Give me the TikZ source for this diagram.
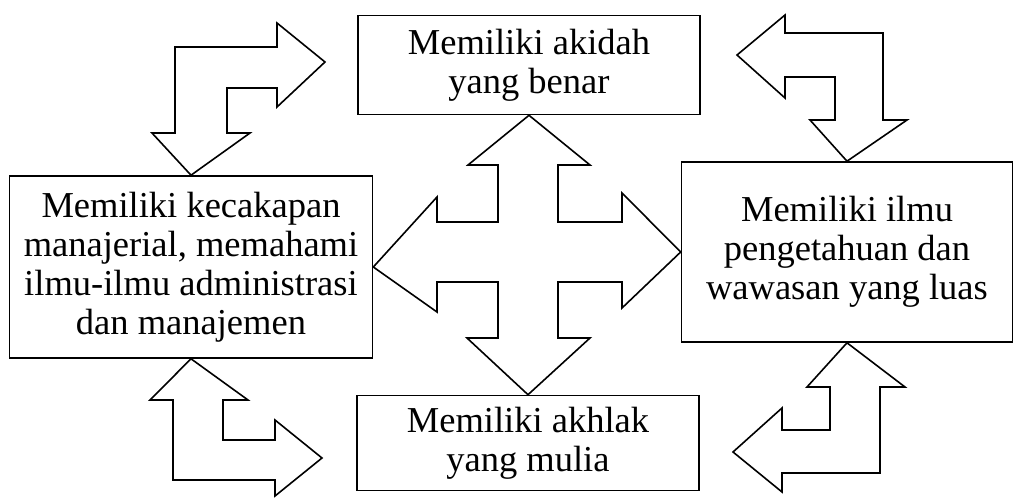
\documentclass[tikz,border=0pt]{standalone}
\usepackage{fontspec}
\setmainfont{Liberation Serif}
\usetikzlibrary{positioning}

\begin{document}
\begin{tikzpicture}[x=1pt, y=-1pt,
		box/.style={draw, line width=1.6pt, align=center, inner sep=0pt,
			font=\fontsize{36.5}{39}\selectfont},
		blockarrow/.style={draw, line width=1.6pt, fill=white, line join=miter}]
		\useasboundingbox (0,0) rectangle (1015,500);
		
		% Define nodes (the four qualities)
		\node[box, minimum width=342pt, minimum height=99pt] (akidah) at (529,65) {Memiliki akidah\\yang benar};
		\node[box, minimum width=363pt, minimum height=182pt] (manajemen) at (191,267) {Memiliki kecakapan\\manajerial, memahami\\ilmu-ilmu administrasi\\dan manajemen};
		\node[box, minimum width=331pt, minimum height=180pt] (ilmu) at (847,252) {Memiliki ilmu\\pengetahuan dan\\wawasan yang luas};
		\node[box, minimum width=342pt, minimum height=95pt] (akhlak) at (528,443) {Memiliki akhlak\\yang mulia};
		
		% Free ends of the corner arrows
		\coordinate (tipA) at (325,62);
		\coordinate (tipB) at (737,55);
		\coordinate (tipC) at (322,458);
		\coordinate (tipD) at (733,452);
		
		% Draw the cross in the middle
		\draw[blockarrow] (akidah.south) -- (590,165) -- (558,165) -- (558,222) -- (622,222) -- (622,193)
			-- (ilmu.west) -- (622,308) -- (622,282) -- (558,282) -- (558,338) -- (590,338)
			-- (akhlak.north) -- (467,338) -- (498,338) -- (498,282) -- (437,282) -- (437,312)
			-- (manajemen.east) -- (437,197) -- (437,222) -- (498,222) -- (498,165) -- (468,165) -- cycle;
		
		% Draw corner arrows
		\draw[blockarrow] (manajemen.north) -- (250,133) -- (227,133) -- (227,88) -- (277,88) -- (277,107)
			-- (tipA) -- (277,23) -- (277,47) -- (175,47) -- (175,133) -- (152,133) -- cycle;
		\draw[blockarrow] (tipB) -- (785,15) -- (785,33) -- (883,33) -- (883,120) -- (907,120)
			-- (ilmu.north) -- (810,120) -- (835,120) -- (835,77) -- (785,77) -- (785,98) -- cycle;
		\draw[blockarrow] (manajemen.south) -- (248,400) -- (223,400) -- (223,440) -- (275,440) -- (275,420)
			-- (tipC) -- (275,496) -- (275,480) -- (173,480) -- (173,400) -- (150,400) -- cycle;
		\draw[blockarrow] (ilmu.south) -- (905,387) -- (880,387) -- (880,473) -- (782,473) -- (782,492)
			-- (tipD) -- (782,408) -- (782,430) -- (830,430) -- (830,387) -- (807,387) -- cycle;
	\end{tikzpicture}
\end{document}
